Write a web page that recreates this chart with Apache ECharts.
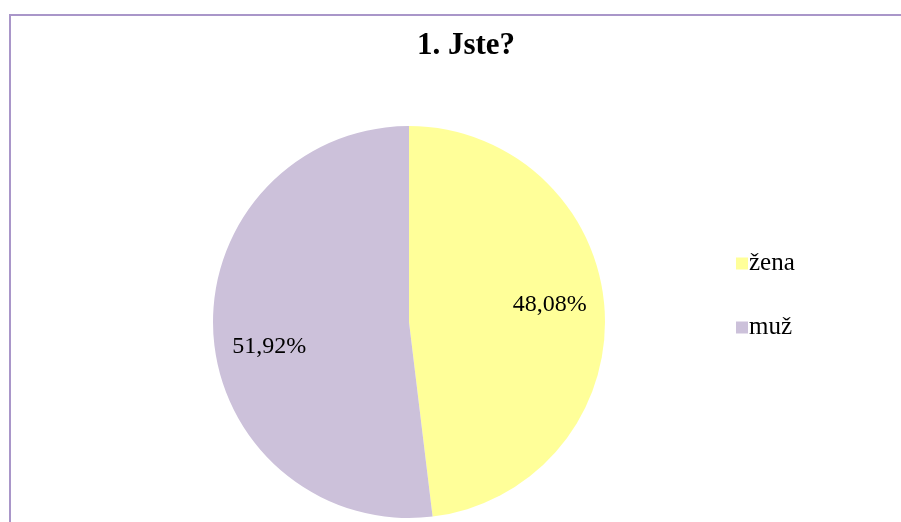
<!DOCTYPE html>
<html>
<head>
<meta charset="utf-8">
<script src="https://cdn.jsdelivr.net/npm/echarts@6/dist/echarts.min.js"></script>
<style>
html,body{margin:0;padding:0;background:#fff;}
#frame{position:absolute;left:9px;top:14px;width:892px;height:508px;border-left:2px solid #a996c9;border-top:2px solid #a996c9;box-sizing:border-box;}
#chart{position:absolute;left:0;top:0;width:901px;height:522px;}
</style>
</head>
<body>
<div id="frame"></div>
<div id="chart"></div>
<script>
const titleText = '1. Jste?';
const categories = ['žena', 'muž'];
const values = [48.08, 51.92];
const colors = ['#ffff99', '#ccc1da'];
const labelOffsets = [[40, -11], [-39, 19]];

const chart = echarts.init(document.getElementById('chart'), null, {renderer: 'canvas'});
const data = categories.map((c, i) => ({
  name: c,
  value: values[i],
  itemStyle: {color: colors[i]},
  label: {offset: labelOffsets[i]}
}));
chart.setOption({
  backgroundColor: 'transparent',
  animation: false,
  title: {
    text: titleText,
    left: 461, top: 25,
    textAlign: 'center',
    textStyle: {fontFamily: 'Liberation Serif', fontWeight: 'bold', fontSize: 31, color: '#000'}
  },
  legend: {
    orient: 'vertical',
    left: 731, top: 246,
    icon: 'rect',
    itemWidth: 12, itemHeight: 12,
    itemGap: 39,
    data: categories,
    textStyle: {fontFamily: 'Liberation Serif', fontSize: 25, color: '#000', padding: [0, 0, 0, -4]}
  },
  series: [{
    type: 'pie',
    center: [409, 322],
    radius: 196,
    startAngle: 90,
    clockwise: true,
    data: data,
    itemStyle: {borderWidth: 0},
    emphasis: {disabled: true},
    label: {
      show: true,
      position: 'inside',
      formatter: p => p.value.toFixed(2).replace('.', ',') + '%',
      fontFamily: 'Liberation Serif',
      fontSize: 24,
      color: '#000'
    },
    labelLine: {show: false}
  }]
});
</script>
</body>
</html>
